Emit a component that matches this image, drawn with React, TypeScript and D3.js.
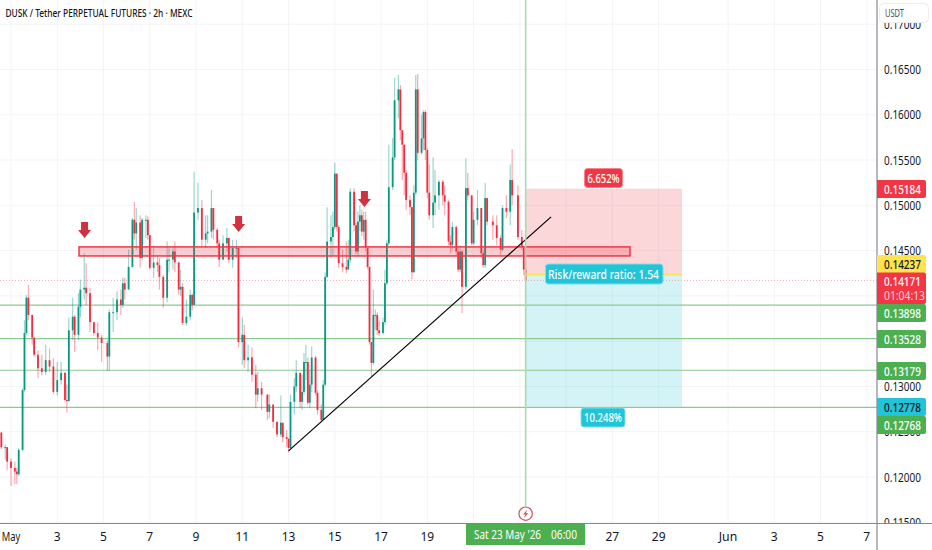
import React from "react";
import * as d3 from "d3";

const W = 932, H = 550;
const paneRight = 877, paneBottom = 523;
const FONT = "'Noto Sans', sans-serif";

// Bars: 2h slot counted from 1 May 00:00 UTC, prices in units of 1e-4 USDT
const firstOpen = 1249;
const barSlot = [-5,-3,-2,0,2,3,4,6,7,8,9,11,12,14,16,18,20,22,24,26,28,29,30,32,33,35,36,38,39,41,43,45,47,50,51,53,55,57,58,59,61,63,64,65,67,68,70,71,72,74,76,77,79,81,82,84,85,87,88,89,91,93,94,95,97,99,101,102,104,105,107,108,110,112,113,115,117,118,120,121,123,125,127,128,130,133,134,136,138,140,141,143,144,145,147,148,150,151,152,153,154,155,156,158,159,161,162,163,164,166,167,168,169,170,172,174,175,176,178,179,180,181,182,183,184,185,186,187,188,189,190,191,193,194,195,196,198,199,201,202,203,204,205,207,208,209,210,211,213,214,215,216,217,219,220,222,224,225,227,228,229,231,232,233,234,236,237,239,240,242,244,245,246,247,250,252,254,255,257,259,260,263,265,266,267];
const barClose = [1233,1233,1217,1210,1206,1203,1230,1296,1359,1398,1379,1354,1335,1320,1316,1329,1322,1294,1307,1315,1285,1284,1362,1377,1357,1388,1407,1409,1403,1371,1359,1354,1348,1333,1382,1382,1396,1390,1414,1407,1432,1484,1469,1481,1442,1484,1484,1467,1431,1437,1434,1421,1398,1440,1440,1449,1437,1407,1410,1370,1377,1401,1390,1492,1497,1462,1469,1471,1497,1473,1458,1440,1458,1464,1440,1453,1453,1349,1357,1329,1332,1313,1291,1298,1291,1272,1280,1261,1247,1260,1244,1242,1232,1283,1300,1315,1283,1294,1327,1327,1282,1302,1332,1293,1274,1263,1302,1421,1460,1465,1476,1535,1476,1436,1432,1429,1440,1515,1478,1449,1482,1489,1471,1484,1453,1432,1349,1326,1379,1379,1362,1359,1371,1414,1458,1520,1553,1616,1628,1583,1567,1536,1506,1498,1426,1514,1628,1558,1574,1603,1561,1514,1489,1503,1511,1526,1511,1504,1460,1456,1476,1449,1429,1449,1410,1519,1511,1458,1484,1497,1447,1434,1508,1482,1478,1464,1451,1497,1493,1528,1511,1465,1454,1429,1417];
const barHigh = [1250,1236,1232,1221,1217,1210,1232,1298,1373,1401,1412,1379,1354,1340,1335,1346,1342,1331,1327,1327,1316,1302,1376,1398,1379,1403,1418,1447,1436,1409,1371,1371,1357,1351,1385,1398,1405,1407,1420,1420,1451,1486,1504,1497,1489,1486,1489,1488,1467,1456,1445,1442,1423,1460,1453,1453,1460,1437,1429,1414,1396,1407,1403,1537,1525,1506,1489,1489,1517,1497,1475,1462,1467,1475,1456,1462,1462,1453,1376,1368,1346,1343,1324,1316,1305,1291,1291,1280,1261,1290,1258,1252,1243,1291,1309,1329,1315,1313,1337,1346,1332,1318,1344,1334,1296,1280,1307,1426,1498,1489,1493,1547,1535,1478,1451,1460,1462,1519,1519,1481,1493,1500,1495,1493,1493,1453,1432,1349,1407,1385,1382,1373,1376,1429,1462,1567,1574,1641,1644,1633,1583,1567,1539,1511,1498,1522,1644,1645,1600,1605,1605,1563,1545,1553,1539,1528,1528,1522,1506,1467,1482,1478,1453,1456,1451,1552,1536,1511,1493,1517,1497,1451,1525,1508,1489,1489,1467,1500,1511,1545,1562,1522,1473,1454,1437];
const barLow = [1231,1219,1208,1190,1192,1192,1201,1228,1294,1357,1373,1346,1333,1309,1312,1313,1316,1292,1290,1302,1283,1271,1283,1351,1338,1351,1376,1396,1390,1360,1356,1340,1327,1317,1317,1360,1373,1379,1387,1396,1407,1431,1462,1451,1431,1440,1464,1462,1429,1420,1426,1407,1387,1393,1426,1429,1426,1401,1400,1368,1367,1373,1384,1390,1484,1455,1453,1458,1464,1462,1453,1432,1442,1449,1436,1431,1442,1343,1324,1320,1316,1305,1276,1283,1274,1263,1265,1254,1244,1244,1238,1233,1227,1232,1269,1294,1276,1274,1291,1307,1280,1276,1294,1290,1269,1261,1263,1300,1420,1442,1445,1473,1471,1431,1426,1425,1431,1437,1471,1446,1444,1471,1466,1462,1449,1429,1346,1311,1324,1362,1357,1356,1357,1368,1412,1456,1517,1550,1596,1572,1528,1511,1495,1489,1418,1426,1511,1550,1556,1561,1550,1508,1484,1475,1489,1495,1500,1489,1456,1447,1451,1445,1426,1426,1381,1407,1506,1456,1456,1478,1442,1431,1431,1478,1462,1456,1445,1449,1486,1478,1500,1462,1451,1423,1416];

// Axes
const priceTicks = [0.17, 0.165, 0.16, 0.155, 0.15, 0.145, 0.14, 0.135, 0.13, 0.125, 0.12, 0.115];
const hiddenPriceTicks = [0.14, 0.135];
const gridDays = [0, 2, 4, 6, 8, 10, 12, 14, 16, 18, 20, 22, 24, 26, 28, 31, 33, 35, 37];
const timeTickDays = [0, 2, 4, 6, 8, 10, 12, 14, 16, 18, 26, 28, 31, 33, 35, 37];
const timeTickLabels = ["May", "3", "5", "7", "9", "11", "13", "15", "17", "19", "27", "29", "Jun", "3", "5", "7"];

// Drawings
const levels = [0.13898, 0.13528, 0.13179, 0.12768];
const levelTexts = ["0.13898", "0.13528", "0.13179", "0.12768"];
const lastPrice = 0.14171;
const zoneTop = 0.14541, zoneBottom = 0.14441, zoneStartDay = 2.94, zoneEndDay = 26.76;
const arrowDays = [3.18, 9.84, 15.28];
const arrowPrices = [0.1464, 0.14706, 0.14982];
const trendDays = [12, 23.35];
const trendPrices = [0.12289, 0.14872];
const riskStartDay = 22.25, riskEndDay = 29.01;
const stopPrice = 0.15184, entryPrice = 0.14237, targetPrice = 0.12778;
const crossDay = 22.25;

const x = d3.scaleLinear().domain([0, 1]).range([11, 34.13]);
const y = d3.scaleLinear().domain([0.165, 0.12]).range([69.5, 477]);
const p = (v: number) => y(v / 1e4);
const slotX = (s: number) => x(s / 12);

function T({ tx, ty, w, size = 12.5, fill = "#131722", anchor = "start", weight = 400, children }: any) {
  return (
    <text x={tx} y={ty} dominantBaseline="central" fontSize={size} fontFamily={FONT} fill={fill} textAnchor={anchor} fontWeight={weight}
      {...(w ? { textLength: w, lengthAdjust: "spacingAndGlyphs" } : {})}>{children}</text>
  );
}

function Tag({ top, h = 18, color, text, fill = "#fff" }: any) {
  return (
    <g>
      <path d={`M${paneRight} ${top}H924a2 2 0 0 1 2 2V${top + h - 2}a2 2 0 0 1 -2 2H${paneRight}Z`} fill={color} />
      <T tx={884} ty={top + h / 2} w={37} fill={fill} weight={500}>{text}</T>
    </g>
  );
}

export default function App() {
  const riskL = x(riskStartDay), riskR = x(riskEndDay);
  const trend = d3.line<number>().x((d) => x(d)).y((_, i) => y(trendPrices[i]))(trendDays) as string;
  return (
    <svg width={W} height={H} style={{ position: "fixed", left: 0, top: 0, background: "#fff" }}>
      {priceTicks.map((t) => (
        <line key={t} x1={0} x2={paneRight} y1={y(t)} y2={y(t)} stroke="#f3f4f6" />
      ))}
      {gridDays.map((d) => (
        <line key={d} x1={x(d)} x2={x(d)} y1={0} y2={paneBottom} stroke="#f3f4f6" />
      ))}

      <rect x={riskL} y={y(stopPrice)} width={riskR - riskL} height={y(entryPrice) - y(stopPrice)} fill="#f23645" fillOpacity={0.2} />
      <rect x={riskL} y={y(entryPrice)} width={riskR - riskL} height={y(targetPrice) - y(entryPrice)} fill="#22c4d8" fillOpacity={0.2} />

      {levels.map((l) => (
        <line key={l} x1={0} x2={paneRight} y1={y(l)} y2={y(l)} stroke="#8cc98f" strokeWidth={1.2} />
      ))}
      <line x1={0} x2={paneRight} y1={y(lastPrice)} y2={y(lastPrice)} stroke="#f7a5ad" strokeDasharray="1 2" />

      {barSlot.map((s, i) => {
        const open = i === 0 ? firstOpen : barClose[i - 1];
        const c = barClose[i];
        const col = c >= open ? "#089981" : "#f7293f";
        return (
          <g key={s}>
            <line x1={slotX(s)} x2={slotX(s)} y1={p(barHigh[i])} y2={p(barLow[i])} stroke={col} strokeOpacity={0.4} strokeWidth={1.2} />
            <rect x={slotX(s) - 0.9} width={1.8} y={Math.min(p(open), p(c))} height={Math.max(1, Math.abs(p(open) - p(c)))} fill={col} />
          </g>
        );
      })}

      <rect x={x(zoneStartDay)} y={y(zoneTop)} width={x(zoneEndDay) - x(zoneStartDay)} height={y(zoneBottom) - y(zoneTop)} fill="#f23645" fillOpacity={0.25} stroke="#f23645" strokeWidth={1.5} />

      {arrowDays.map((d, i) => {
        const ax = x(d), ay = y(arrowPrices[i]);
        return <path key={d} d={`M${ax} ${ay}l-6.5 -8h3v-8h7v8h3Z`} fill="#d2313f" />;
      })}

      <path d={trend} fill="none" stroke="#000" strokeWidth={1.2} />

      <line x1={riskL} x2={riskR} y1={y(entryPrice)} y2={y(entryPrice)} stroke="#ffe34f" strokeWidth={2} />
      <line x1={x(crossDay)} x2={x(crossDay)} y1={0} y2={506} stroke="#a8dbac" strokeWidth={1.6} />
      <circle cx={x(crossDay)} cy={513.7} r={6.7} fill="#fff" stroke="#c8565f" strokeWidth={1.2} />
      <path d={`M${x(crossDay) + 1.8} 509.4l-4.4 5h2.4l-1.6 3.8l4.4 -5h-2.4Z`} fill="#c8565f" />

      {/* risk / reward labels */}
      <rect x={584.5} y={168.5} width={38} height={19} rx={3} fill="#f23645" stroke="#f8848e" />
      <T tx={603.5} ty={178} anchor="middle" w={32} fill="#fff" size={12.5} weight={500}>6.652%</T>
      <rect x={581} y={408} width={44} height={19} rx={3} fill="#22c4d8" stroke="#7adfeb" />
      <T tx={603} ty={417.5} anchor="middle" w={38} fill="#fff" size={12.5} weight={500}>10.248%</T>
      <rect x={545.5} y={264} width={117.5} height={20} rx={3} fill="#22c4d8" stroke="#7adfeb" />
      <T tx={603.5} ty={274} anchor="middle" w={111} fill="#fff" size={12.5} weight={500}>Risk/reward ratio: 1.54</T>

      {/* axes */}
      <rect x={paneRight} y={0} width={W - paneRight} height={H} fill="#fff" />
      <rect x={0} y={paneBottom} width={W} height={H - paneBottom} fill="#fff" />
      {priceTicks.filter((t) => !hiddenPriceTicks.includes(t)).map((t) => (
        <T key={t} tx={884} ty={y(t)} w={37}>{t.toFixed(5)}</T>
      ))}
      <rect x={paneRight + 1} y={paneBottom} width={W} height={H - paneBottom} fill="#fff" />
      <line x1={0} x2={W} y1={paneBottom + 0.5} y2={paneBottom + 0.5} stroke="#868993" strokeWidth={1.2} />
      <line x1={paneRight} x2={paneRight} y1={0} y2={H} stroke="#868993" strokeWidth={1.2} />
      <rect x={879.5} y={3.5} width={49} height={19} rx={4} fill="#fff" stroke="#eeeeee" />
      <T tx={885} ty={13} w={19} size={10.5} fill="#4a4e57">USDT</T>

      {timeTickDays.map((d, i) => (
        <T key={d} tx={x(d)} ty={536} anchor="middle" size={12} {...(timeTickLabels[i].length > 2 ? { w: 18.5 } : {})}>{timeTickLabels[i]}</T>
      ))}

      <Tag top={180} color="#f23645" text={stopPrice.toFixed(5)} />
      <Tag top={255} color="#ffe34f" text={entryPrice.toFixed(5)} fill="#131722" />
      <path d={`M${paneRight} 272.5H924a2 2 0 0 1 2 2V302a2 2 0 0 1 -2 2H${paneRight}Z`} fill="#f23645" />
      <T tx={884} ty={281} w={37} fill="#fff" weight={500}>{lastPrice.toFixed(5)}</T>
      <T tx={884} ty={295} w={41} fill="#ffd5d9">01:04:13</T>
      <Tag top={304} color="#4caf50" text={levelTexts[0]} />
      <Tag top={330} color="#4caf50" text={levelTexts[1]} />
      <Tag top={362} color="#4caf50" text={levelTexts[2]} />
      <Tag top={398} color="#22c4d8" text={targetPrice.toFixed(5)} fill="#131722" />
      <Tag top={416} color="#4caf50" text={levelTexts[3]} />

      <rect x={466} y={523} width={119} height={22} fill="#4caf50" />
      <T tx={474} ty={534.5} w={67} fill="#fff" size={12.5}>Sat 23 May '26</T>
      <T tx={551} ty={534.5} w={26} fill="#fff" size={12.5}>06:00</T>

      <T tx={5.5} ty={12} w={187} size={11.5} weight={500}>DUSK / Tether PERPETUAL FUTURES · 2h · MEXC</T>
    </svg>
  );
}
